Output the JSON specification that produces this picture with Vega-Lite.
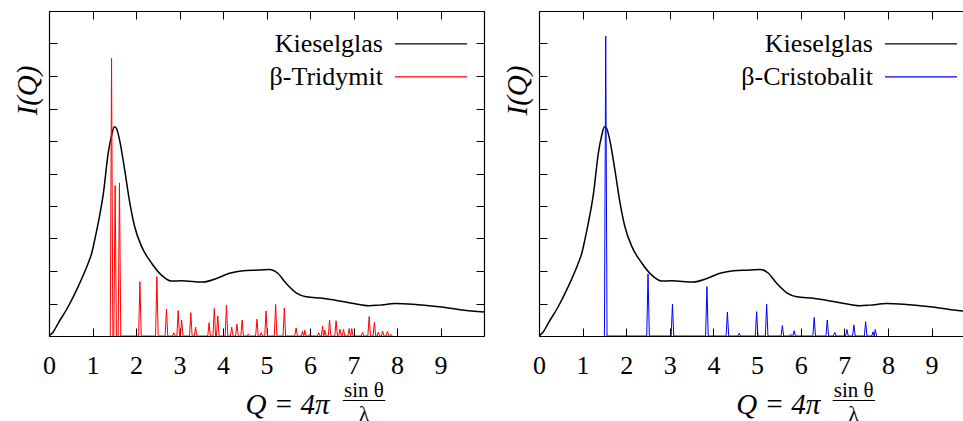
{
  "$schema": "https://vega.github.io/schema/vega-lite/v6.json",
  "padding": {"left": 13, "top": 10, "right": 0, "bottom": 0},
  "spacing": 18,
  "background": "white",
  "config": {
    "view": {"stroke": null},
    "font": "Liberation Serif, Times New Roman, serif",
    "axis": {"domainColor": "black", "domainWidth": 1.2, "tickColor": "black", "tickWidth": 1, "tickSize": -8, "grid": false, "labelFont": "Liberation Serif, Times New Roman, serif", "titleFont": "Liberation Serif, Times New Roman, serif", "labelColor": "black", "titleColor": "black", "titleFontWeight": "normal"},
    "legend": {"labelFont": "Liberation Serif, Times New Roman, serif", "labelColor": "black"},
    "title": {"font": "Liberation Serif, Times New Roman, serif", "subtitleFont": "Liberation Serif, Times New Roman, serif", "color": "black", "subtitleColor": "black", "fontWeight": "normal"}
  },
  "datasets": {
    "glass": [
      {"q": 0, "i": 0}, {"q": 0.1, "i": 0.13}, {"q": 0.21, "i": 0.39}, {"q": 0.44, "i": 0.9}, {"q": 0.67, "i": 1.52}, {"q": 0.9, "i": 2.24}, {"q": 0.98, "i": 2.54}, {"q": 1.05, "i": 2.95}, {"q": 1.13, "i": 3.47}, {"q": 1.25, "i": 4.39}, {"q": 1.36, "i": 5.62}, {"q": 1.44, "i": 6.18}, {"q": 1.5, "i": 6.44}, {"q": 1.55, "i": 6.39}, {"q": 1.63, "i": 5.98}, {"q": 1.74, "i": 5.11}, {"q": 1.86, "i": 4.08}, {"q": 1.97, "i": 3.36}, {"q": 2.13, "i": 2.75}, {"q": 2.36, "i": 2.24}, {"q": 2.58, "i": 1.88}, {"q": 2.81, "i": 1.69}, {"q": 3.04, "i": 1.7}, {"q": 3.54, "i": 1.66}, {"q": 3.85, "i": 1.77}, {"q": 4.15, "i": 1.93}, {"q": 4.46, "i": 2.01}, {"q": 4.84, "i": 2.03}, {"q": 5.07, "i": 2.05}, {"q": 5.26, "i": 1.93}, {"q": 5.45, "i": 1.62}, {"q": 5.68, "i": 1.33}, {"q": 5.91, "i": 1.21}, {"q": 6.29, "i": 1.16}, {"q": 6.75, "i": 1.06}, {"q": 7.13, "i": 0.97}, {"q": 7.36, "i": 0.93}, {"q": 7.59, "i": 0.95}, {"q": 7.97, "i": 1.0}, {"q": 8.36, "i": 0.98}, {"q": 8.97, "i": 0.9}, {"q": 9.5, "i": 0.8}, {"q": 10, "i": 0.74}
    ],
    "trid": [
      {"q": 1.408, "i": 0}, {"q": 1.438, "i": 8.54}, {"q": 1.468, "i": 0},
      {"q": 1.49, "i": 0}, {"q": 1.52, "i": 4.63}, {"q": 1.55, "i": 0},
      {"q": 1.59, "i": 0}, {"q": 1.62, "i": 4.71}, {"q": 1.65, "i": 0},
      {"q": 2.06, "i": 0}, {"q": 2.09, "i": 1.67}, {"q": 2.12, "i": 0},
      {"q": 2.45, "i": 0}, {"q": 2.48, "i": 1.83}, {"q": 2.51, "i": 0},
      {"q": 2.67, "i": 0}, {"q": 2.7, "i": 0.83}, {"q": 2.73, "i": 0},
      {"q": 2.84, "i": 0}, {"q": 2.87, "i": 0.1}, {"q": 2.9, "i": 0},
      {"q": 2.94, "i": 0}, {"q": 2.97, "i": 0.78}, {"q": 3.0, "i": 0},
      {"q": 3.02, "i": 0}, {"q": 3.05, "i": 0.49}, {"q": 3.08, "i": 0},
      {"q": 3.23, "i": 0}, {"q": 3.26, "i": 0.72}, {"q": 3.29, "i": 0},
      {"q": 3.34, "i": 0}, {"q": 3.37, "i": 0.27}, {"q": 3.4, "i": 0},
      {"q": 3.65, "i": 0}, {"q": 3.68, "i": 0.41}, {"q": 3.71, "i": 0},
      {"q": 3.77, "i": 0}, {"q": 3.8, "i": 0.85}, {"q": 3.83, "i": 0},
      {"q": 3.85, "i": 0}, {"q": 3.88, "i": 0.62}, {"q": 3.91, "i": 0},
      {"q": 4.05, "i": 0}, {"q": 4.08, "i": 0.95}, {"q": 4.11, "i": 0},
      {"q": 4.17, "i": 0}, {"q": 4.2, "i": 0.27}, {"q": 4.23, "i": 0},
      {"q": 4.29, "i": 0}, {"q": 4.32, "i": 0.37}, {"q": 4.35, "i": 0},
      {"q": 4.41, "i": 0}, {"q": 4.44, "i": 0.49}, {"q": 4.47, "i": 0},
      {"q": 4.55, "i": 0}, {"q": 4.58, "i": 0.06}, {"q": 4.61, "i": 0},
      {"q": 4.75, "i": 0}, {"q": 4.78, "i": 0.52}, {"q": 4.81, "i": 0},
      {"q": 4.85, "i": 0}, {"q": 4.88, "i": 0.1}, {"q": 4.91, "i": 0},
      {"q": 4.96, "i": 0}, {"q": 4.99, "i": 0.77}, {"q": 5.02, "i": 0},
      {"q": 5.18, "i": 0}, {"q": 5.21, "i": 0.97}, {"q": 5.24, "i": 0},
      {"q": 5.38, "i": 0}, {"q": 5.41, "i": 0.86}, {"q": 5.44, "i": 0},
      {"q": 5.65, "i": 0}, {"q": 5.68, "i": 0.25}, {"q": 5.71, "i": 0},
      {"q": 5.8, "i": 0}, {"q": 5.83, "i": 0.15}, {"q": 5.86, "i": 0},
      {"q": 5.85, "i": 0}, {"q": 5.88, "i": 0.18}, {"q": 5.91, "i": 0},
      {"q": 5.97, "i": 0}, {"q": 6.0, "i": 0.06}, {"q": 6.03, "i": 0},
      {"q": 6.17, "i": 0}, {"q": 6.2, "i": 0.1}, {"q": 6.23, "i": 0},
      {"q": 6.26, "i": 0}, {"q": 6.29, "i": 0.31}, {"q": 6.32, "i": 0},
      {"q": 6.31, "i": 0}, {"q": 6.34, "i": 0.18}, {"q": 6.37, "i": 0},
      {"q": 6.42, "i": 0}, {"q": 6.45, "i": 0.49}, {"q": 6.48, "i": 0},
      {"q": 6.57, "i": 0}, {"q": 6.6, "i": 0.47}, {"q": 6.63, "i": 0},
      {"q": 6.66, "i": 0}, {"q": 6.69, "i": 0.21}, {"q": 6.72, "i": 0},
      {"q": 6.74, "i": 0}, {"q": 6.77, "i": 0.2}, {"q": 6.8, "i": 0},
      {"q": 6.87, "i": 0}, {"q": 6.9, "i": 0.23}, {"q": 6.93, "i": 0},
      {"q": 6.935, "i": 0}, {"q": 6.96, "i": 0.23}, {"q": 6.99, "i": 0},
      {"q": 7.18, "i": 0}, {"q": 7.21, "i": 0.11}, {"q": 7.24, "i": 0},
      {"q": 7.33, "i": 0}, {"q": 7.36, "i": 0.6}, {"q": 7.39, "i": 0},
      {"q": 7.45, "i": 0}, {"q": 7.48, "i": 0.42}, {"q": 7.51, "i": 0},
      {"q": 7.54, "i": 0}, {"q": 7.57, "i": 0.12}, {"q": 7.6, "i": 0},
      {"q": 7.64, "i": 0}, {"q": 7.67, "i": 0.15}, {"q": 7.7, "i": 0},
      {"q": 7.75, "i": 0}, {"q": 7.78, "i": 0.14}, {"q": 7.81, "i": 0},
      {"q": 7.83, "i": 0}, {"q": 7.86, "i": 0.05}, {"q": 7.89, "i": 0}
    ],
    "crist": [
      {"q": 1.5, "i": 0}, {"q": 1.53, "i": 9.23}, {"q": 1.56, "i": 0},
      {"q": 2.47, "i": 0}, {"q": 2.5, "i": 1.91}, {"q": 2.53, "i": 0},
      {"q": 3.03, "i": 0}, {"q": 3.06, "i": 0.98}, {"q": 3.09, "i": 0},
      {"q": 3.82, "i": 0}, {"q": 3.85, "i": 1.52}, {"q": 3.88, "i": 0},
      {"q": 4.29, "i": 0}, {"q": 4.32, "i": 0.74}, {"q": 4.35, "i": 0},
      {"q": 4.56, "i": 0}, {"q": 4.59, "i": 0.08}, {"q": 4.62, "i": 0},
      {"q": 4.96, "i": 0}, {"q": 4.99, "i": 0.75}, {"q": 5.02, "i": 0},
      {"q": 5.19, "i": 0}, {"q": 5.22, "i": 0.98}, {"q": 5.25, "i": 0},
      {"q": 5.55, "i": 0}, {"q": 5.58, "i": 0.32}, {"q": 5.61, "i": 0},
      {"q": 5.74, "i": 0}, {"q": 5.77, "i": 0.05}, {"q": 5.8, "i": 0},
      {"q": 5.82, "i": 0}, {"q": 5.85, "i": 0.16}, {"q": 5.88, "i": 0},
      {"q": 6.28, "i": 0}, {"q": 6.31, "i": 0.57}, {"q": 6.34, "i": 0},
      {"q": 6.58, "i": 0}, {"q": 6.61, "i": 0.49}, {"q": 6.64, "i": 0},
      {"q": 6.75, "i": 0}, {"q": 6.78, "i": 0.11}, {"q": 6.81, "i": 0},
      {"q": 7.03, "i": 0}, {"q": 7.06, "i": 0.2}, {"q": 7.09, "i": 0},
      {"q": 7.19, "i": 0}, {"q": 7.22, "i": 0.34}, {"q": 7.25, "i": 0},
      {"q": 7.46, "i": 0}, {"q": 7.49, "i": 0.44}, {"q": 7.52, "i": 0},
      {"q": 7.63, "i": 0}, {"q": 7.66, "i": 0.13}, {"q": 7.685, "i": 0},
      {"q": 7.69, "i": 0}, {"q": 7.71, "i": 0.2}, {"q": 7.74, "i": 0}
    ]
  },
  "hconcat": [
    {
      "width": 435,
      "height": 325,
      "title": {"text": ["sin θ", "——"], "subtitle": "λ", "orient": "bottom", "anchor": "middle", "frame": "group", "dx": 97.5, "offset": -39, "font": "Liberation Serif, Times New Roman, serif", "subtitleFont": "Liberation Serif, Times New Roman, serif", "fontSize": 21, "lineHeight": 9, "subtitleFontSize": 21, "subtitlePadding": -6},
      "layer": [
        {
          "data": {"name": "glass"},
          "mark": {"type": "line", "strokeWidth": 1.5, "interpolate": "monotone", "clip": true},
          "encoding": {
            "x": {"field": "q", "type": "quantitative", "scale": {"domain": [0, 10], "nice": false, "zero": false},
                  "axis": {"orient": "bottom", "values": [0, 1, 2, 3, 4, 5, 6, 7, 8, 9], "labelFont": "Liberation Serif, Times New Roman, serif", "labelFontSize": 26, "labelBaseline": "alphabetic", "labelPadding": 45, "labelFlush": false, "labelOverlap": false,
                           "title": "Q = 4π", "titleFont": "Times New Roman, Liberation Serif, DejaVu Serif", "titleFontSize": 29, "titleFontStyle": "italic", "titleAnchor": "start", "titleAlign": "left", "titleBaseline": "alphabetic", "titleX": 196, "titleY": 77}},
            "y": {"field": "i", "type": "quantitative", "scale": {"domain": [0, 10], "nice": false},
                  "axis": {"orient": "left", "values": [0, 1, 2, 3, 4, 5, 6, 7, 8, 9, 10], "labels": false,
                           "title": "I(Q)", "titleFont": "Times New Roman, Liberation Serif, DejaVu Serif", "titleFontSize": 29, "titleFontStyle": "italic", "titleAngle": 270, "titleAlign": "center", "titleBaseline": "alphabetic", "titleX": -13, "titleY": 79}},
            "color": {"datum": "Kieselglas", "type": "nominal",
                      "scale": {"domain": ["Kieselglas", "β-Tridymit"], "range": ["#000000", "#ff0000"]},
                      "legend": {"orient": "none", "legendX": 369, "legendY": 19.9, "title": null, "symbolType": "M-5,0H5", "symbolSize": 207.4, "symbolStrokeWidth": 1.3, "symbolFillColor": "transparent", "labelAlign": "right", "labelOffset": -61, "labelFont": "Liberation Serif, Times New Roman, serif", "labelFontSize": 26, "labelLimit": 400, "rowPadding": 7}}
          }
        },
        {
          "data": {"name": "trid"},
          "mark": {"type": "line", "strokeWidth": 1, "clip": true},
          "encoding": {
            "x": {"field": "q", "type": "quantitative", "axis": {"orient": "top", "values": [0, 1, 2, 3, 4, 5, 6, 7, 8, 9], "labels": false, "title": null}},
            "y": {"field": "i", "type": "quantitative", "axis": {"orient": "right", "values": [0, 1, 2, 3, 4, 5, 6, 7, 8, 9, 10], "labels": false, "title": null}},
            "color": {"datum": "β-Tridymit", "type": "nominal"}
          }
        }
      ],
      "resolve": {"axis": {"x": "independent", "y": "independent"}}
    },
    {
      "width": 425,
      "height": 325,
      "title": {"text": ["sin θ", "——"], "subtitle": "λ", "orient": "bottom", "anchor": "middle", "frame": "group", "dx": 102.2, "offset": -39, "font": "Liberation Serif, Times New Roman, serif", "subtitleFont": "Liberation Serif, Times New Roman, serif", "fontSize": 21, "lineHeight": 9, "subtitleFontSize": 21, "subtitlePadding": -6},
      "layer": [
        {
          "data": {"name": "glass"},
          "mark": {"type": "line", "strokeWidth": 1.5, "interpolate": "monotone", "clip": true},
          "encoding": {
            "x": {"field": "q", "type": "quantitative", "scale": {"domain": [0, 9.745], "nice": false, "zero": false},
                  "axis": {"orient": "bottom", "values": [0, 1, 2, 3, 4, 5, 6, 7, 8, 9], "labelFont": "Liberation Serif, Times New Roman, serif", "labelFontSize": 26, "labelBaseline": "alphabetic", "labelPadding": 45, "labelFlush": false, "labelOverlap": false,
                           "title": "Q = 4π", "titleFont": "Times New Roman, Liberation Serif, DejaVu Serif", "titleFontSize": 29, "titleFontStyle": "italic", "titleAnchor": "start", "titleAlign": "left", "titleBaseline": "alphabetic", "titleX": 196.7, "titleY": 77}},
            "y": {"field": "i", "type": "quantitative", "scale": {"domain": [0, 10], "nice": false},
                  "axis": {"orient": "left", "values": [0, 1, 2, 3, 4, 5, 6, 7, 8, 9, 10], "labels": false,
                           "title": "I(Q)", "titleFont": "Times New Roman, Liberation Serif, DejaVu Serif", "titleFontSize": 29, "titleFontStyle": "italic", "titleAngle": 270, "titleAlign": "center", "titleBaseline": "alphabetic", "titleX": -13, "titleY": 79}},
            "color": {"datum": "Kieselglas", "type": "nominal",
                      "scale": {"domain": ["Kieselglas", "β-Cristobalit"], "range": ["#000000", "#0000ff"]},
                      "legend": {"orient": "none", "legendX": 369, "legendY": 19.9, "title": null, "symbolType": "M-5,0H5", "symbolSize": 207.4, "symbolStrokeWidth": 1.3, "symbolFillColor": "transparent", "labelAlign": "right", "labelOffset": -61, "labelFont": "Liberation Serif, Times New Roman, serif", "labelFontSize": 26, "labelLimit": 400, "rowPadding": 7}}
          }
        },
        {
          "data": {"name": "crist"},
          "mark": {"type": "line", "strokeWidth": 1, "clip": true},
          "encoding": {
            "x": {"field": "q", "type": "quantitative", "axis": {"orient": "top", "values": [0, 1, 2, 3, 4, 5, 6, 7, 8, 9], "labels": false, "title": null}},
            "y": {"field": "i", "type": "quantitative", "axis": null},
            "color": {"datum": "β-Cristobalit", "type": "nominal"}
          }
        }
      ],
      "resolve": {"axis": {"x": "independent", "y": "independent"}}
    }
  ],
  "resolve": {"scale": {"color": "independent"}, "legend": {"color": "independent"}}
}
